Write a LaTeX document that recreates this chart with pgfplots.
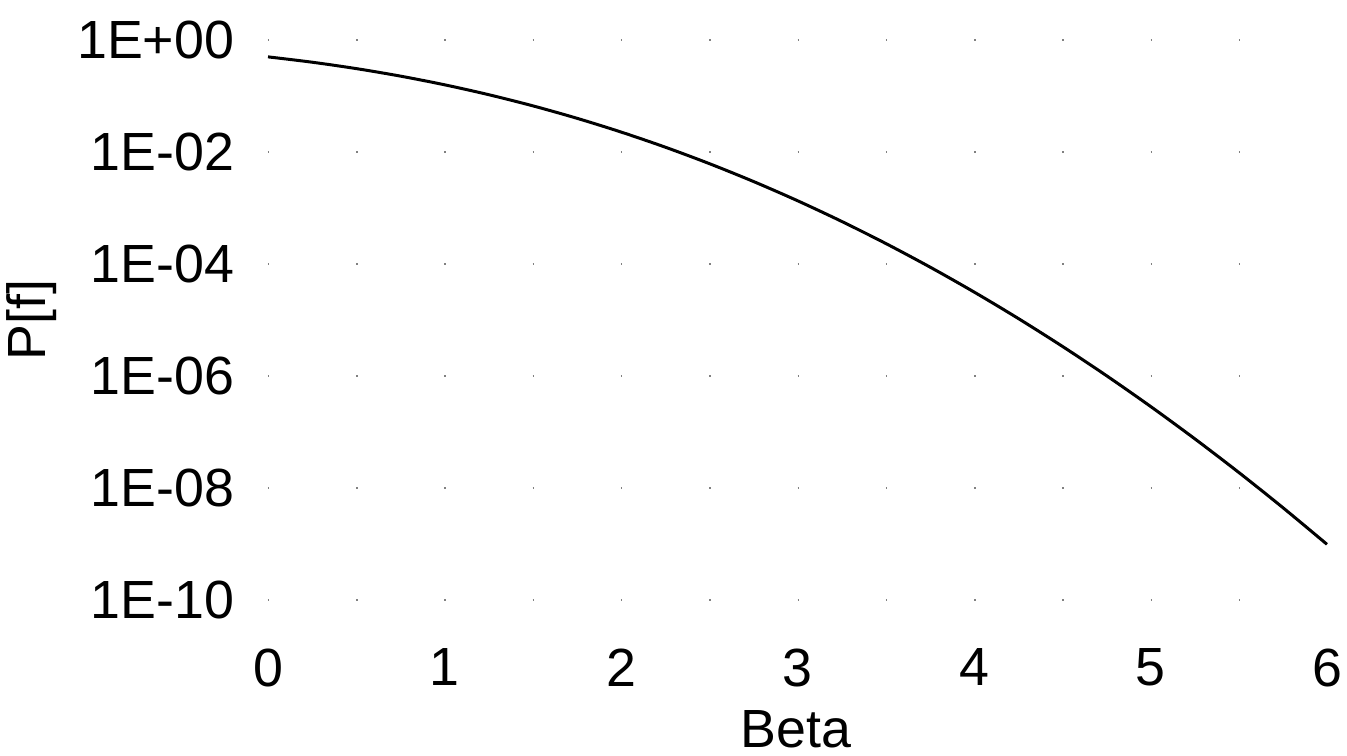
\documentclass[border=0pt]{standalone}
\usepackage{fontspec}
\setmainfont{Liberation Sans}
\usepackage{pgfplots}
\pgfplotsset{compat=1.18}
\begin{document}
\begin{tikzpicture}[x=1pt,y=1pt]
\path[use as bounding box] (-107.2pt,-62.4pt) rectangle (431.6pt,240pt);
\begin{axis}[
  at={(0pt,0pt)}, anchor=south west,
  scale only axis, width=423.6pt, height=224pt,
  ymode=log, xmin=0, xmax=6, ymin=1e-10, ymax=1,
  axis line style={draw=none},
  tick style={draw=none},
  xtick={0,1,2,3,4,5,6},
  ytick={1e-10,1e-8,1e-6,1e-4,1e-2,1},
  yticklabels={1E-10,1E-08,1E-06,1E-04,1E-02,1E+00},
  ymajorgrids,
  major grid style={gray, line width=0.5pt, dash pattern=on 0.6pt off 34.7pt},
  /pgf/number format/assume math mode=true,
  tick label style={font=\fontsize{21.5}{24}\selectfont},
  yticklabel style={xshift=-10pt},
  xticklabel style={yshift=-16pt},
  clip=false,
]
\addplot[black, line width=1.2pt, smooth] coordinates {
(0,0.5) (0.25,0.40129) (0.5,0.30854) (0.75,0.22663) (1,0.15866)
(1.25,0.10565) (1.5,0.066807) (1.75,0.040059) (2,0.02275)
(2.25,0.012224) (2.5,0.0062097) (2.75,0.0029798) (3,0.0013499)
(3.25,5.7703e-4) (3.5,2.3263e-4) (3.75,8.8417e-5) (4,3.1671e-5)
(4.25,1.0689e-5) (4.5,3.3977e-6) (4.75,1.0171e-6) (5,2.8665e-7)
(5.25,7.6e-8) (5.5,1.8990e-8) (5.75,4.4622e-9) (6,9.8659e-10)
};
\end{axis}
\node[rotate=90, font=\fontsize{21.5}{24}\selectfont] at (-94.4pt,112pt) {P[f]};
\node[inner sep=0pt, anchor=base, font=\fontsize{21.5}{24}\selectfont] at (211.2pt,-59pt) {Beta};
\end{tikzpicture}
\end{document}
